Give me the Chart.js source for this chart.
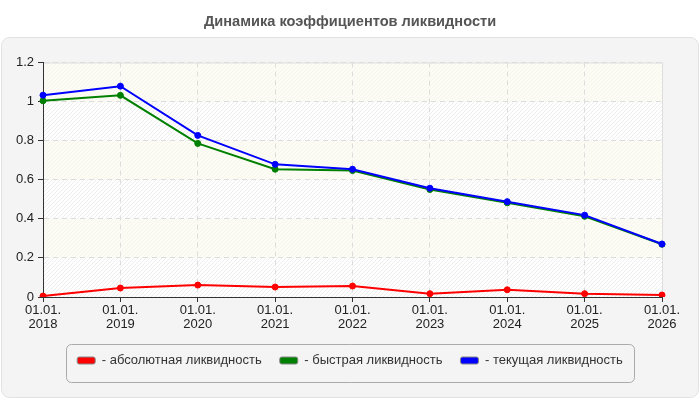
<!DOCTYPE html>
<html>
<head>
<meta charset="utf-8">
<script src="https://cdn.jsdelivr.net/npm/chart.js@4"></script>
<style>
    body { margin: 0; background: #fff; }
    #wrap { width: 700px; height: 400px; position: relative; }
</style>
</head>
<body>
<div id="wrap"><canvas id="chart"></canvas></div>
<script>
const years = ['2018', '2019', '2020', '2021', '2022', '2023', '2024', '2025', '2026'];
const absLiq = [0.005, 0.046, 0.061, 0.051, 0.056, 0.017, 0.037, 0.017, 0.010];
const quickLiq = [1.004, 1.032, 0.786, 0.654, 0.647, 0.550, 0.482, 0.413, 0.270];
const currentLiq = [1.033, 1.079, 0.827, 0.679, 0.654, 0.557, 0.488, 0.419, 0.271];
const yTicks = [0, 0.2, 0.4, 0.6, 0.8, 1, 1.2];

const FONT = "Arial, 'Liberation Sans', sans-serif";
const labels = years.map(y => ['01.01.', y]);

// hatch pattern for the plot bands
function makeHatch(alpha) {
    const c = document.createElement('canvas');
    c.width = 4;
    c.height = 4;
    const g = c.getContext('2d');
    g.strokeStyle = 'rgba(0,0,0,' + alpha + ')';
    g.lineWidth = 1;
    g.beginPath();
    g.moveTo(0, 4);
    g.lineTo(4, 0);
    g.moveTo(-1, 1);
    g.lineTo(1, -1);
    g.moveTo(3, 5);
    g.lineTo(5, 3);
    g.stroke();
    return c;
}

const backdrop = {
    id: 'backdrop',
    afterLayout(chart) {
        // center title and legend on the page, not on the padded box
        const shiftTitle = 350 - (chart.titleBlock.left + chart.titleBlock.right) / 2;
        chart.titleBlock.left += shiftTitle;
        chart.titleBlock.right += shiftTitle;
        const shiftLegend = 350 - (chart.legend.left + chart.legend.right) / 2;
        chart.legend.left += shiftLegend;
        chart.legend.right += shiftLegend;
    },
    beforeDraw(chart) {
        const ctx = chart.ctx;
        const area = chart.chartArea;
        const y = chart.scales.y;
        ctx.save();
        // panel
        ctx.beginPath();
        ctx.roundRect(1.5, 37.5, 697, 360, 8);
        ctx.fillStyle = '#f4f4f4';
        ctx.fill();
        ctx.strokeStyle = '#e2e2e2';
        ctx.lineWidth = 1;
        ctx.stroke();

        // bands
        const hatchW = ctx.createPattern(makeHatch(0.07), 'repeat');
        const hatchC = ctx.createPattern(makeHatch(0.025), 'repeat');
        for (let i = 0; i < yTicks.length - 1; i++) {
            const top = y.getPixelForValue(yTicks[i + 1]);
            const bot = y.getPixelForValue(yTicks[i]);
            const cream = (i % 2 === 1);
            ctx.fillStyle = cream ? '#fcfcf4' : '#ffffff';
            ctx.fillRect(area.left, top, area.right - area.left, bot - top);
            ctx.fillStyle = cream ? hatchC : hatchW;
            ctx.fillRect(area.left, top, area.right - area.left, bot - top);
        }
        ctx.strokeStyle = '#dddddd';
        ctx.strokeRect(area.left + 0.5, area.top + 0.5, area.right - area.left, area.bottom - area.top);
        ctx.restore();
    },
    afterDraw(chart) {
        const boxes = chart.legend.legendHitBoxes;
        if (!boxes || !boxes.length) return;
        const first = boxes[0];
        const last = boxes[boxes.length - 1];
        const ctx = chart.ctx;
        ctx.save();
        ctx.beginPath();
        ctx.roundRect(Math.round(first.left - 11) + 0.5, Math.round(first.top - 10) + 0.5,
            Math.round(last.left + last.width - first.left + 22), 38, 5);
        ctx.strokeStyle = '#aaaaaa';
        ctx.lineWidth = 1;
        ctx.stroke();
        ctx.restore();
    }
};

const chart = new Chart(document.querySelector('#chart'), {
    type: 'line',
    data: {
        labels: labels,
        datasets: [{
            label: '- абсолютная ликвидность',
            data: absLiq,
            borderColor: '#ff0000',
            backgroundColor: '#ff0000',
            order: 0
        }, {
            label: '- быстрая ликвидность',
            data: quickLiq,
            borderColor: '#008000',
            backgroundColor: '#008000',
            order: 2
        }, {
            label: '- текущая ликвидность',
            data: currentLiq,
            borderColor: '#0000ff',
            backgroundColor: '#0000ff',
            order: 1
        }]
    },
    options: {
        responsive: true,
        maintainAspectRatio: false,
        animation: false,
        elements: {
            line: { borderWidth: 2, tension: 0 },
            point: { radius: 3, borderWidth: 1 }
        },
        layout: {
            padding: { left: 10, right: 38, top: 0, bottom: 23 }
        },
        scales: {
            x: {
                offset: false,
                grid: {
                    color: '#dddddd',
                    tickColor: '#333333',
                    tickLength: 5
                },
                border: { color: '#333333', dash: [5, 4] },
                ticks: {
                    color: '#222222',
                    font: { family: FONT, size: 13, lineHeight: 1.05 },
                    padding: 2,
                    maxRotation: 0,
                    autoSkip: false
                },
                afterFit(scale) {
                    scale.height = 39;
                }
            },
            y: {
                min: 0,
                max: 1.2,
                grid: {
                    color: '#dddddd',
                    tickColor: '#333333',
                    tickLength: 5
                },
                border: { color: '#333333', dash: [5, 4] },
                ticks: {
                    stepSize: 0.2,
                    color: '#222222',
                    font: { family: FONT, size: 13 },
                    padding: 4,
                    callback: v => String(Math.round(v * 10) / 10)
                },
                afterFit(scale) {
                    scale.width = 33;
                }
            }
        },
        plugins: {
            title: {
                display: true,
                text: 'Динамика коэффициентов ликвидности',
                color: '#555555',
                font: { family: FONT, size: 14.6, weight: 'bold' },
                padding: { top: 13, bottom: 32 }
            },
            legend: {
                position: 'bottom',
                fullSize: false,
                labels: {
                    boxWidth: 18,
                    boxHeight: 7,
                    padding: 18,
                    color: '#333333',
                    font: { family: FONT, size: 13 },
                    useBorderRadius: true,
                    borderRadius: 2,
                    sort: (a, b) => a.datasetIndex - b.datasetIndex,
                    generateLabels(ch) {
                        const items = Chart.defaults.plugins.legend.labels.generateLabels(ch);
                        items.forEach(it => {
                            it.strokeStyle = '#888888';
                            it.lineWidth = 1;
                        });
                        return items;
                    }
                }
            },
            tooltip: { enabled: false }
        }
    },
    plugins: [backdrop]
});
</script>
</body>
</html>
